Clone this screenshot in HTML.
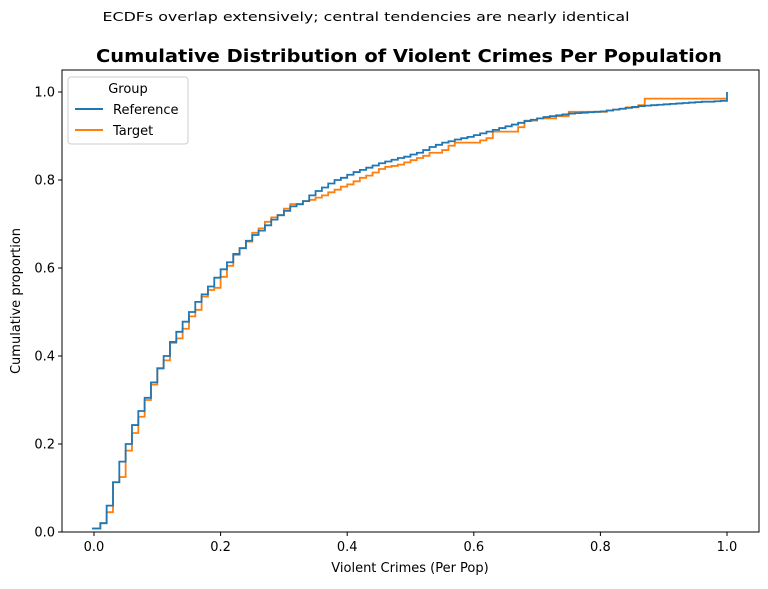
<!DOCTYPE html>
<html><head><meta charset="utf-8"><style>
body{margin:0;background:#fff;font-family:"DejaVu Sans","Liberation Sans",sans-serif;}
svg text{font-family:"DejaVu Sans","Liberation Sans",sans-serif;}
</style></head><body>
<svg id="chart" width="768" height="585" xmlns="http://www.w3.org/2000/svg">
<text x="366" y="21" font-size="12.5" text-anchor="middle" textLength="527" lengthAdjust="spacingAndGlyphs">ECDFs overlap extensively; central tendencies are nearly identical</text>
<text x="409" y="62" font-size="18" font-weight="bold" text-anchor="middle" textLength="626" lengthAdjust="spacingAndGlyphs">Cumulative Distribution of Violent Crimes Per Population</text>
<g id="plot"></g>
<rect x="62" y="70" width="697" height="462" fill="none" stroke="#000" stroke-width="1"/>
<text x="410" y="572" font-size="13" text-anchor="middle">Violent Crimes (Per Pop)</text>
<text transform="translate(20,301) rotate(-90)" font-size="13" text-anchor="middle">Cumulative proportion</text>
<g>
<rect x="68" y="77" width="120" height="67" rx="3" fill="#fff" stroke="#ccc"/>
<text x="128" y="93" font-size="13" text-anchor="middle">Group</text>
<line x1="75" y1="109" x2="103" y2="109" stroke="#1f77b4" stroke-width="2"/>
<text x="113" y="114" font-size="13">Reference</text>
<line x1="75" y1="130" x2="103" y2="130" stroke="#ff7f0e" stroke-width="2"/>
<text x="113" y="135" font-size="13">Target</text>
</g>
</svg>
<script>
const xValues = [];
for (let i = 0; i <= 100; i++) xValues.push(i / 100);
const referenceY = [0.008,0.02,0.06,0.113,0.16,0.2,0.243,0.275,0.305,0.34,
0.372,0.4,0.432,0.455,0.478,0.5,0.523,0.54,0.558,0.578,
0.597,0.613,0.632,0.645,0.662,0.675,0.685,0.697,0.71,0.72,
0.73,0.74,0.745,0.752,0.765,0.775,0.783,0.792,0.8,0.805,
0.812,0.818,0.823,0.828,0.833,0.838,0.842,0.846,0.85,0.853,
0.858,0.862,0.868,0.875,0.88,0.885,0.888,0.892,0.895,0.898,
0.902,0.906,0.91,0.914,0.918,0.922,0.926,0.93,0.934,0.937,
0.94,0.943,0.945,0.947,0.949,0.951,0.952,0.953,0.954,0.955,
0.956,0.958,0.96,0.962,0.964,0.966,0.968,0.969,0.97,0.971,
0.972,0.973,0.974,0.975,0.976,0.977,0.978,0.978,0.979,0.98,1.0];
const targetY = [0.008,0.02,0.045,0.113,0.125,0.185,0.225,0.262,0.3,0.335,
0.372,0.39,0.43,0.44,0.462,0.49,0.505,0.535,0.55,0.555,
0.58,0.605,0.63,0.645,0.66,0.68,0.69,0.705,0.715,0.72,
0.735,0.745,0.745,0.752,0.755,0.76,0.765,0.772,0.778,0.785,
0.79,0.797,0.805,0.81,0.817,0.825,0.83,0.832,0.835,0.84,
0.845,0.85,0.855,0.862,0.862,0.868,0.878,0.885,0.885,0.885,
0.885,0.89,0.895,0.91,0.91,0.91,0.91,0.92,0.935,0.935,
0.94,0.94,0.94,0.945,0.945,0.955,0.955,0.955,0.955,0.955,
0.955,0.958,0.96,0.962,0.965,0.965,0.97,0.985,0.985,0.985,
0.985,0.985,0.985,0.985,0.985,0.985,0.985,0.985,0.985,0.985,0.985];
const xTicks = [0, 0.2, 0.4, 0.6, 0.8, 1.0];
const xTickLabels = ["0.0","0.2","0.4","0.6","0.8","1.0"];
const yTicks = [0, 0.2, 0.4, 0.6, 0.8, 1.0];
const yTickLabels = ["0.0","0.2","0.4","0.6","0.8","1.0"];

const NS = "http://www.w3.org/2000/svg";
const sx = v => 94 + v * 633;
const sy = v => 532 - v * 440;
const plot = document.getElementById("plot");

function mk(tag, attrs) {
  const el = document.createElementNS(NS, tag);
  for (const k in attrs) el.setAttribute(k, attrs[k]);
  return el;
}
xTicks.forEach((t, i) => {
  const g = mk("g", {});
  
  
  g.appendChild(mk("line", {x1: sx(t), x2: sx(t), y1: 532, y2: 536, stroke: "#000"}));
  const tx = mk("text", {x: sx(t), y: 551, "font-size": 13, "text-anchor": "middle"});
  tx.textContent = xTickLabels[i];
  g.appendChild(tx);
  plot.appendChild(g);
});
yTicks.forEach((t, i) => {
  const g = mk("g", {});
  
  
  g.appendChild(mk("line", {x1: 58, x2: 62, y1: sy(t), y2: sy(t), stroke: "#000"}));
  const tx = mk("text", {x: 55, y: sy(t) + 4.5, "font-size": 13, "text-anchor": "end"});
  tx.textContent = yTickLabels[i];
  g.appendChild(tx);
  plot.appendChild(g);
});
function stepPath(ys) {
  let d = "M" + (sx(xValues[0]) - 2) + "," + sy(ys[0]);
  for (let i = 0; i < xValues.length; i++) {
    d += " L" + sx(xValues[i]) + "," + sy(i > 0 ? ys[i - 1] : ys[0]);
    d += " L" + sx(xValues[i]) + "," + sy(ys[i]);
  }
  return d;
}
const pr = mk("path", {d: stepPath(referenceY), fill: "none", stroke: "#1f77b4", "stroke-width": 1.8});


const pt = mk("path", {d: stepPath(targetY), fill: "none", stroke: "#ff7f0e", "stroke-width": 1.8});


plot.appendChild(pt);
plot.appendChild(pr);
</script>
</body></html>
